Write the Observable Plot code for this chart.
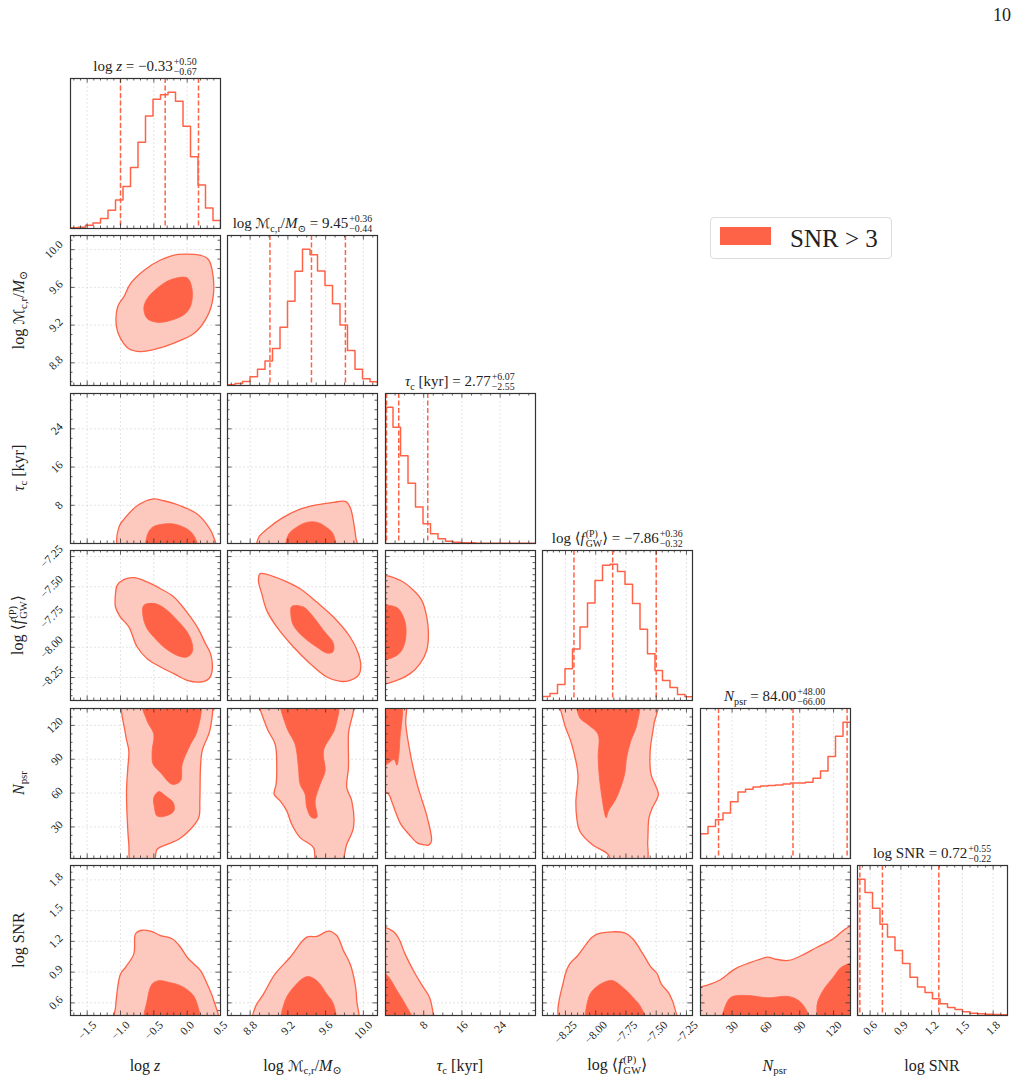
<!DOCTYPE html>
<html>
<head>
<meta charset="utf-8">
<script src="https://cdn.jsdelivr.net/npm/d3@7"></script>
<script src="https://cdn.jsdelivr.net/npm/@observablehq/plot@0.6"></script>
<style>
  body { margin: 0; background: #fff; }
  #fig { position: relative; width: 1021px; height: 1087px; font-family: "Liberation Serif", "DejaVu Serif", serif; color: #222; overflow: hidden; }
  .panel { position: absolute; width: 150px; height: 150px; }
  .lab { position: absolute; white-space: nowrap; line-height: 1; }
  .lab sub { font-size: 0.68em; vertical-align: -0.32em; line-height: 0; }
  .ss { display: inline-flex; flex-direction: column; vertical-align: 0.62em; font-size: 0.66em; line-height: 1.0; margin-left: 1px; text-align: left; }
  .cal { font-family: "DejaVu Sans", sans-serif; font-size: 0.92em; }
  .axlab { font-size: 16px; }
  .title { font-size: 15px; }
</style>
</head>
<body>
<div id="fig"></div>
<script>
// ---- corner plot of the SNR > 3 posterior ----
const tomato = "#ff6347";
const lightFill = "#fdc8be";

// parameter axes
const domains = [[-1.75, 0.5], [8.56, 10.15], [0, 31.4], [-8.44, -7.2], [2, 135], [0.477, 1.94]];
const majorTicks = [
  [-1.5, -1.0, -0.5, 0.0, 0.5],
  [8.8, 9.2, 9.6, 10.0],
  [8, 16, 24],
  [-8.25, -8.0, -7.75, -7.5, -7.25],
  [30, 60, 90, 120],
  [0.6, 0.9, 1.2, 1.5, 1.8]
];
const tickLabels = [
  ["−1.5", "−1.0", "−0.5", "0.0", "0.5"],
  ["8.8", "9.2", "9.6", "10.0"],
  ["8", "16", "24"],
  ["−8.25", "−8.00", "−7.75", "−7.50", "−7.25"],
  ["30", "60", "90", "120"],
  ["0.6", "0.9", "1.2", "1.5", "1.8"]
];
const minorSteps = [0.1, 0.1, 2, 0.05, 7.5, 0.075];

// 1-D marginal histograms (20 bins over each axis range)
const histLogz  = [2, 4, 10, 16, 30, 54, 85, 125, 181, 256, 334, 384, 397, 405, 378, 304, 213, 129, 61, 24];
const histLogMc = [2, 6, 12, 26, 48, 73, 110, 173, 250, 339, 405, 388, 340, 297, 243, 180, 104, 48, 20, 11];
const histTau   = [407, 347, 262, 180, 109, 59, 29, 14, 7, 4, 2, 2, 1, 1, 1, 0.5, 0.5, 0.5, 0.5, 0.5];
const histFgw   = [12, 21, 48, 95, 154, 220, 292, 359, 405, 408, 386, 348, 290, 213, 140, 90, 60, 39, 18, 11];
const histNpsr  = [73, 95, 115, 135, 168, 197, 205, 212, 215, 216, 218, 221, 224, 224, 226, 238, 259, 302, 362, 404];
const histSnr   = [407, 367, 320, 272, 234, 194, 155, 114, 85, 69, 50, 35, 24, 18, 11, 7, 5, 4, 3, 2];
const hists = [histLogz, histLogMc, histTau, histFgw, histNpsr, histSnr];

// medians with 16th / 84th percentile offsets
const medians   = [-0.33, 9.45, 2.77, -7.86, 84.00, 0.72];
const errPlus   = [0.50, 0.36, 6.07, 0.36, 48.00, 0.55];
const errMinus  = [0.67, 0.44, 2.55, 0.32, 66.00, 0.22];

// 2-D credible-region contours, [x, y] in the units of (column, row) parameters
const outer_z_mc = [[-0.125, 9.95], [0.30, 9.91], [0.375, 9.78], [0.39, 9.50], [0.30, 9.29], [0.10, 9.11], [-0.20, 9.01], [-0.45, 8.95], [-0.70, 8.92], [-0.875, 8.95], [-1.0, 9.06], [-1.06, 9.18], [-1.04, 9.40], [-0.95, 9.50], [-0.85, 9.64], [-0.65, 9.78], [-0.40, 9.89]];
const inner_z_mc = [[-0.25, 9.68], [0.0, 9.70], [0.075, 9.57], [0.05, 9.40], [-0.05, 9.31], [-0.25, 9.25], [-0.45, 9.23], [-0.60, 9.27], [-0.65, 9.38], [-0.60, 9.48], [-0.45, 9.59]];

const outer_z_tau = [[-1.02, -1], [-1.025, 3.37], [-0.925, 5.46], [-0.75, 7.9], [-0.525, 9.3], [-0.35, 8.95], [-0.10, 7.9], [0.15, 6.16], [0.325, 3.37], [0.40, 1.27], [0.425, -1]];
const inner_z_tau = [[-0.6, -1], [-0.6, 1.62], [-0.525, 3.37], [-0.35, 4.07], [-0.2, 4.07], [0.0, 3.02], [0.1, 1.62], [0.15, -1]];

const outer_mc_tau = [[8.88, -1], [8.89, 1.27], [8.98, 3.02], [9.15, 5.46], [9.33, 7.2], [9.51, 8.1], [9.68, 8.6], [9.81, 8.8], [9.86, 7.56], [9.90, 4.07], [9.92, 1.27], [9.93, -1]];
const inner_mc_tau = [[9.19, -1], [9.21, 1.97], [9.29, 3.37], [9.40, 4.42], [9.51, 4.42], [9.61, 3.37], [9.68, 1.97], [9.69, -1]];

const outer_z_f = [[-1.075, -7.557], [-1.05, -7.488], [-0.95, -7.441], [-0.80, -7.425], [-0.60, -7.460], [-0.40, -7.516], [-0.20, -7.584], [-0.025, -7.695], [0.15, -7.832], [0.275, -7.970], [0.35, -8.053], [0.375, -8.191], [0.325, -8.260], [0.20, -8.287], [0.0, -8.273], [-0.20, -8.218], [-0.40, -8.163], [-0.60, -8.094], [-0.75, -7.998], [-0.875, -7.832], [-1.0, -7.750], [-1.075, -7.667]];
const inner_z_f = [[-0.65, -7.653], [-0.475, -7.640], [-0.30, -7.695], [-0.15, -7.777], [0.0, -7.874], [0.075, -7.970], [0.075, -8.039], [0.0, -8.080], [-0.15, -8.067], [-0.35, -7.998], [-0.50, -7.915], [-0.60, -7.846], [-0.66, -7.750]];

const outer_mc_f = [[8.906, -7.391], [8.976, -7.397], [9.153, -7.447], [9.330, -7.516], [9.506, -7.626], [9.683, -7.750], [9.860, -7.915], [9.948, -8.053], [9.973, -8.163], [9.948, -8.232], [9.860, -8.273], [9.754, -8.282], [9.612, -8.246], [9.436, -8.136], [9.259, -7.998], [9.082, -7.832], [8.976, -7.695], [8.923, -7.557], [8.888, -7.447]];
const inner_mc_f = [[9.241, -7.662], [9.365, -7.667], [9.471, -7.750], [9.577, -7.860], [9.683, -7.970], [9.676, -8.039], [9.612, -8.047], [9.506, -7.998], [9.365, -7.915], [9.259, -7.819], [9.231, -7.722]];

const outer_tau_f = [[-1, -7.419], [3.06, -7.446], [5.85, -7.529], [7.59, -7.612], [8.64, -7.750], [8.99, -7.887], [8.64, -8.025], [7.24, -8.135], [5.15, -8.218], [2.36, -8.273], [-1, -8.295]];
const inner_tau_f = [[-1, -7.667], [2.36, -7.672], [3.75, -7.750], [4.31, -7.860], [3.75, -7.998], [2.36, -8.067], [-1, -8.094]];

const outer_z_n = [[-0.94, 145], [-0.925, 112.2], [-0.875, 97.4], [-0.89, 82.6], [-0.91, 61.9], [-0.90, 38.3], [-0.875, 14.6], [-0.835, -3], [-0.51, -3], [-0.45, 10.2], [-0.30, 14.6], [-0.125, 19.1], [0.05, 27.9], [0.175, 38.3], [0.19, 53.1], [0.20, 82.6], [0.225, 97.4], [0.35, 118.1], [0.325, 145]];
const inner_z_n_top = [[-0.675, 145], [-0.60, 124.0], [-0.50, 112.2], [-0.525, 97.4], [-0.51, 85.6], [-0.40, 78.2], [-0.225, 67.8], [-0.10, 70.8], [-0.075, 85.6], [0.05, 103.3], [0.15, 115.1], [0.175, 145]];
const inner_z_n_low = [[-0.425, 61.3], [-0.50, 56.0], [-0.49, 47.1], [-0.45, 39.7], [-0.325, 39.7], [-0.20, 44.2], [-0.21, 51.6], [-0.325, 57.5]];

const outer_mc_n = [[8.916, 145], [8.976, 118.1], [9.065, 103.3], [9.082, 82.6], [9.075, 67.8], [9.054, 59.0], [9.118, 53.1], [9.188, 44.2], [9.241, 32.4], [9.330, 20.5], [9.471, 11.7], [9.506, -3], [9.754, -3], [9.824, 14.6], [9.895, 29.4], [9.877, 53.1], [9.824, 64.9], [9.842, 82.6], [9.842, 112.2], [9.877, 145]];
const inner_mc_n = [[9.135, 145], [9.188, 118.1], [9.277, 103.3], [9.312, 82.6], [9.330, 67.8], [9.383, 59.0], [9.400, 47.2], [9.453, 38.3], [9.506, 38.3], [9.489, 53.1], [9.542, 67.8], [9.595, 79.7], [9.577, 97.4], [9.701, 118.1], [9.718, 145]];

const outer_tau_n = [[4.08, 145], [4.25, 120.8], [5.36, 91.3], [6.64, 67.6], [7.49, 55.8], [8.76, 38.0], [9.62, 17.4], [9.02, 13.8], [7.91, 14.4], [6.64, 15.9], [4.94, 23.3], [3.23, 32.2], [1.53, 49.9], [0.68, 58.8], [-1, 64.6], [-1, 145]];
const inner_tau_n = [[-1, 145], [3.06, 145], [2.98, 106.0], [2.72, 91.3], [2.38, 84.7], [1.79, 89.8], [0.68, 86.8], [-1, 82.4]];

const outer_f_n = [[-8.282, 145], [-8.265, 123.8], [-8.198, 103.1], [-8.147, 76.5], [-8.164, 52.8], [-8.157, 38.1], [-8.131, 26.2], [-8.030, 14.4], [-7.896, 5.5], [-7.862, -3], [-7.587, -3], [-7.570, 17.4], [-7.560, 38.1], [-7.532, 46.9], [-7.482, 58.8], [-7.509, 67.6], [-7.543, 76.5], [-7.550, 97.2], [-7.519, 120.8], [-7.492, 145]];
const inner_f_n = [[-8.147, 145], [-8.131, 126.7], [-8.064, 120.8], [-7.980, 112.0], [-7.980, 91.3], [-7.963, 67.6], [-7.913, 38.1], [-7.896, 44.0], [-7.829, 55.7], [-7.762, 76.5], [-7.745, 91.3], [-7.711, 106.0], [-7.660, 120.8], [-7.654, 145]];

const outer_z_snr = [[-1.085, 0.4], [-1.075, 0.555], [-1.0, 0.882], [-0.925, 0.947], [-0.80, 1.078], [-0.775, 1.274], [-0.70, 1.306], [-0.55, 1.300], [-0.40, 1.257], [-0.225, 1.225], [-0.10, 1.143], [0.0, 1.045], [0.10, 0.980], [0.20, 0.915], [0.30, 0.784], [0.40, 0.621], [0.45, 0.4]];
const inner_z_snr = [[-0.625, 0.4], [-0.6, 0.621], [-0.525, 0.784], [-0.425, 0.817], [-0.275, 0.800], [-0.1, 0.768], [0.075, 0.686], [0.15, 0.588], [0.175, 0.4]];

const outer_mc_snr = [[8.835, 0.4], [8.853, 0.555], [8.941, 0.686], [9.065, 0.882], [9.224, 1.045], [9.400, 1.241], [9.506, 1.248], [9.630, 1.300], [9.718, 1.257], [9.789, 1.110], [9.860, 0.980], [9.913, 0.784], [9.930, 0.621], [9.930, 0.4]];
const inner_mc_snr = [[9.146, 0.4], [9.171, 0.621], [9.259, 0.751], [9.400, 0.856], [9.506, 0.817], [9.612, 0.686], [9.683, 0.588], [9.694, 0.4]];

const outer_tau_snr = [[-1, 1.332], [1.53, 1.30], [2.81, 1.225], [4.08, 1.078], [6.21, 0.884], [7.91, 0.753], [9.19, 0.656], [9.87, 0.526], [10.04, 0.4], [-1, 0.4]];
const inner_tau_snr = [[-1, 0.916], [0.68, 0.851], [2.38, 0.721], [4.08, 0.591], [5.79, 0.4], [-1, 0.4]];

const outer_f_snr = [[-8.282, 0.4], [-8.265, 0.818], [-8.215, 0.981], [-8.148, 1.062], [-8.097, 1.143], [-8.030, 1.241], [-7.963, 1.280], [-7.761, 1.283], [-7.694, 1.225], [-7.610, 1.078], [-7.543, 0.948], [-7.492, 0.884], [-7.459, 0.786], [-7.392, 0.688], [-7.341, 0.526], [-7.331, 0.4]];
const inner_f_snr = [[-8.064, 0.4], [-8.057, 0.656], [-8.013, 0.737], [-7.929, 0.802], [-7.862, 0.818], [-7.778, 0.753], [-7.694, 0.656], [-7.627, 0.558], [-7.586, 0.4]];

const outer_n_snr = [[-5, 0.72], [7.4, 0.770], [18.3, 0.818], [32.8, 0.932], [47.3, 0.997], [61.8, 1.046], [67.2, 1.030], [79.9, 1.014], [94.4, 1.078], [105.3, 1.143], [119.8, 1.225], [130.6, 1.322], [140, 1.36], [140, 0.4], [-5, 0.4]];
const inner_n_snr_low = [[21.9, 0.4], [23.7, 0.558], [29.2, 0.656], [43.7, 0.672], [61.8, 0.649], [79.9, 0.663], [90.8, 0.607], [98.0, 0.477], [99.8, 0.4]];
const inner_n_snr_high = [[108.9, 0.4], [105.3, 0.575], [110.7, 0.721], [119.8, 0.851], [127.0, 0.948], [140, 0.981], [140, 0.4]];

// lookup: "row,col" -> {outer: [...polygons], inner: [...polygons]}
const contours = {
  "1,0": {outer: [outer_z_mc], inner: [inner_z_mc]},
  "2,0": {outer: [outer_z_tau], inner: [inner_z_tau]},
  "2,1": {outer: [outer_mc_tau], inner: [inner_mc_tau]},
  "3,0": {outer: [outer_z_f], inner: [inner_z_f]},
  "3,1": {outer: [outer_mc_f], inner: [inner_mc_f]},
  "3,2": {outer: [outer_tau_f], inner: [inner_tau_f]},
  "4,0": {outer: [outer_z_n], inner: [inner_z_n_top, inner_z_n_low]},
  "4,1": {outer: [outer_mc_n], inner: [inner_mc_n]},
  "4,2": {outer: [outer_tau_n], inner: [inner_tau_n]},
  "4,3": {outer: [outer_f_n], inner: [inner_f_n]},
  "5,0": {outer: [outer_z_snr], inner: [inner_z_snr]},
  "5,1": {outer: [outer_mc_snr], inner: [inner_mc_snr]},
  "5,2": {outer: [outer_tau_snr], inner: [inner_tau_snr]},
  "5,3": {outer: [outer_f_snr], inner: [inner_f_snr]},
  "5,4": {outer: [outer_n_snr], inner: [inner_n_snr_low, inner_n_snr_high]}
};

// axis labels (HTML math-like text)
const stack = (sup, sub) => `<span class="ss"><span>${sup}</span><span>${sub}</span></span>`;
const axisLabels = [
  `log <i>z</i>`,
  `log <span class="cal">ℳ</span><sub>c,r</sub>/<i>M</i><sub>⊙</sub>`,
  `<i>τ</i><sub>c</sub> [kyr]`,
  `log ⟨<i>f</i>${stack("(P)", "GW")}⟩`,
  `<i>N</i><sub>psr</sub>`,
  `log SNR`
];

// ---- layout ----
const N = 6, size = 150, step = 157.4, left0 = 70, top0 = 78;
const fig = document.getElementById("fig");
const fmt = v => (v < 0 ? "−" : "") + Math.abs(v).toFixed(2);

const fs = 11.5;
function textWidth(s) {
  let w = 0;
  for (const c of s) w += c === "." ? 0.25 : c === "−" ? 0.56 : 0.5;
  return w * fs;
}
const rotBox = s => (textWidth(s) + 0.75 * fs) / Math.SQRT2;

function inside(d) {
  const [a, b] = d;
  return v => v >= Math.min(a, b) - 1e-9 && v <= Math.max(a, b) + 1e-9;
}
function minorTicks(j) {
  const [lo, hi] = domains[j], s = minorSteps[j];
  const out = [];
  for (let k = Math.ceil(lo / s - 1e-9); k * s <= hi + 1e-9; k++) {
    const v = k * s;
    if (!majorTicks[j].some(m => Math.abs(m - v) < s * 1e-3)) out.push(v);
  }
  return out;
}

function tickMarks(j, axis, sides) {
  const marks = [];
  const majors = majorTicks[j].filter(inside(domains[j]));
  const minors = minorTicks(j);
  const specs = [[majors, 4.5], [minors, 2.5]];
  for (const [vals, len] of specs) {
    for (const side of sides) {
      const o = {stroke: "#333", strokeWidth: 0.8};
      if (axis === "x") {
        o.x = d => d;
        if (side === "bottom") o.insetTop = size - len; else o.insetBottom = size - len;
        marks.push(Plot.tickX(vals, o));
      } else {
        o.y = d => d;
        if (side === "left") o.insetRight = size - len; else o.insetLeft = size - len;
        marks.push(Plot.tickY(vals, o));
      }
    }
  }
  return marks;
}

function panel(i, j) {
  const diag = i === j;
  const xd = domains[j];
  const yd = diag ? [0, 1.1 * d3.max(hists[j])] : domains[i];
  const marks = [];
  const grid = {stroke: "#d4d4d4", strokeWidth: 0.6, strokeDasharray: "2,2"};
  marks.push(Plot.ruleX(majorTicks[j].filter(inside(xd)), {x: d => d, ...grid}));
  if (!diag) marks.push(Plot.ruleY(majorTicks[i].filter(inside(yd)), {y: d => d, ...grid}));

  if (diag) {
    const h = hists[j];
    const edges = d3.range(h.length + 1).map(k => xd[0] + k * (xd[1] - xd[0]) / h.length);
    const pts = [[edges[0], 0], ...h.map((c, k) => [edges[k], c]), [edges[h.length], h[h.length - 1]], [edges[h.length], 0]];
    const q = [medians[j] - errMinus[j], medians[j], medians[j] + errPlus[j]];
    marks.push(Plot.ruleX(q, {x: d => d, stroke: tomato, strokeWidth: 1.5, strokeDasharray: "5,2.5"}));
    marks.push(Plot.line(pts, {x: d => d[0], y: d => d[1], curve: "step-after", stroke: tomato, strokeWidth: 1.5, clip: true}));
    marks.push(...tickMarks(j, "x", ["bottom", "top"]));
  } else {
    const c = contours[i + "," + j];
    for (const poly of c.outer) {
      marks.push(Plot.line(poly, {x: d => d[0], y: d => d[1], curve: "catmull-rom-closed", fill: lightFill, stroke: "none", clip: true}));
    }
    for (const poly of c.inner) {
      marks.push(Plot.line(poly, {x: d => d[0], y: d => d[1], curve: "catmull-rom-closed", fill: tomato, stroke: tomato, strokeWidth: 0.8, clip: true}));
    }
    for (const poly of c.outer) {
      marks.push(Plot.line(poly, {x: d => d[0], y: d => d[1], curve: "catmull-rom-closed", fill: "none", stroke: tomato, strokeWidth: 1.3, clip: true}));
    }
    marks.push(...tickMarks(j, "x", ["bottom", "top"]));
    marks.push(...tickMarks(i, "y", ["left", "right"]));
  }

  // tick labels on the outer edges of the grid
  if (i === N - 1) {
    majorTicks[j].forEach((v, k) => {
      if (!inside(xd)(v)) return;
      const s = tickLabels[j][k];
      marks.push(Plot.text([v], {x: d => d, frameAnchor: "bottom", text: () => s, rotate: -45,
        dy: 4.5 + rotBox(s) / 2, fontSize: fs, fill: "#222", textAnchor: "middle", lineAnchor: "middle"}));
    });
  }
  if (j === 0 && i > 0) {
    majorTicks[i].forEach((v, k) => {
      if (!inside(yd)(v)) return;
      const s = tickLabels[i][k];
      marks.push(Plot.text([v], {y: d => d, frameAnchor: "left", text: () => s, rotate: -45,
        dx: -(6.5 + rotBox(s) / 2), fontSize: fs, fill: "#222", textAnchor: "middle", lineAnchor: "middle"}));
    });
  }

  marks.push(Plot.frame({stroke: "#333", strokeWidth: 1.2}));

  return Plot.plot({
    width: size, height: size, margin: 0,
    x: {domain: xd, axis: null},
    y: {domain: yd, axis: null},
    style: {overflow: "visible", fontFamily: "Liberation Serif, DejaVu Serif, serif", background: "transparent"},
    marks
  });
}

function addLabel(html, cls, css) {
  const d = document.createElement("div");
  d.className = "lab " + cls;
  d.innerHTML = html;
  Object.assign(d.style, css);
  fig.appendChild(d);
  return d;
}

for (let i = 0; i < N; i++) {
  for (let j = 0; j <= i; j++) {
    const wrap = document.createElement("div");
    wrap.className = "panel";
    wrap.style.left = Math.round(left0 + step * j) + "px";
    wrap.style.top = Math.round(top0 + step * i) + "px";
    wrap.appendChild(panel(i, j));
    fig.appendChild(wrap);
  }
}

// titles above the marginals
for (let j = 0; j < N; j++) {
  const cx = left0 + step * j + size / 2;
  const top = top0 + step * j;
  const html = `${axisLabels[j]} = ${fmt(medians[j])}${stack("+" + errPlus[j].toFixed(2), "−" + errMinus[j].toFixed(2))}`;
  addLabel(html, "title", {left: cx + "px", top: (top - 1) + "px", transform: "translate(-50%, -100%)"});
}

// axis labels
for (let j = 0; j < N; j++) {
  const cx = left0 + step * j + size / 2;
  addLabel(axisLabels[j], "axlab", {left: cx + "px", top: "1066px", transform: "translate(-50%, -50%)"});
}
for (let i = 1; i < N; i++) {
  const cy = top0 + step * i + size / 2;
  addLabel(axisLabels[i], "axlab", {left: "19px", top: cy + "px", transform: "translate(-50%, -50%) rotate(-90deg)"});
}

// legend
const legend = document.createElement("div");
Object.assign(legend.style, {position: "absolute", left: "710px", top: "217px", width: "182px", height: "42px",
  border: "1px solid #dcdcdc", borderRadius: "4px", background: "#fff", boxSizing: "border-box"});
legend.innerHTML = `<div style="position:absolute;left:9px;top:9px;width:51px;height:18px;background:${tomato}"></div>
  <div style="position:absolute;left:79px;top:50%;transform:translateY(-50%);font-size:25px;white-space:nowrap;line-height:1">SNR &gt; 3</div>`;
fig.appendChild(legend);

// page number
addLabel("10", "", {left: "993px", top: "6px", fontSize: "18px"});
</script>
</body>
</html>
